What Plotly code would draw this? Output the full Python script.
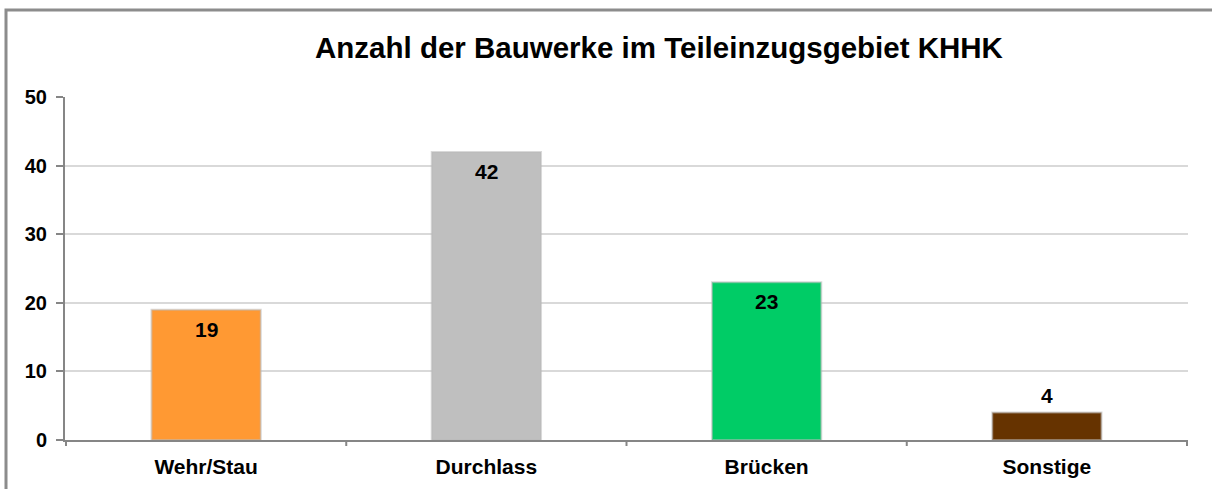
import plotly.graph_objects as go

categories = ["Wehr/Stau", "Durchlass", "Brücken", "Sonstige"]
counts = [19, 42, 23, 4]
bar_colors = ["#FF9933", "#BFBFBF", "#00CC66", "#663300"]
label_inside = [True, True, True, False]
y_ticks = [0, 10, 20, 30, 40, 50]

FONT = "Liberation Sans, Arial, sans-serif"

fig = go.Figure()
fig.add_trace(go.Bar(
    x=categories,
    y=counts,
    marker=dict(color=bar_colors, line=dict(color="rgba(185,185,185,0.55)", width=2)),
    width=0.39,
    hoverinfo="x+y",
))

# value labels: inside near the top of tall bars, just above short ones
for cat, val, inside in zip(categories, counts, label_inside):
    fig.add_annotation(
        x=cat, y=val, xref="x", yref="y",
        text=f"<b>{val}</b>", showarrow=False,
        font=dict(family=FONT, size=21, color="black"),
        yanchor="top" if inside else "bottom",
        yshift=-6 if inside else 4,
    )

fig.update_layout(
    width=1212, height=489,
    margin=dict(l=65, r=24, t=97, b=49, autoexpand=False),
    paper_bgcolor="white", plot_bgcolor="white",
    showlegend=False,
    title=dict(
        text="<b>Anzahl der Bauwerke im Teileinzugsgebiet KHHK</b>",
        font=dict(family=FONT, size=29.5, color="black"),
        x=0.5437, xanchor="center", xref="container",
        y=1 - 48 / 489, yref="container", yanchor="middle",
    ),
    font=dict(family=FONT, color="black"),
)

fig.update_xaxes(
    automargin=False,
    showline=True, linecolor="#868686", linewidth=2,
    ticks="", showgrid=False,
    tickfont=dict(family=FONT, size=21, color="black", weight="bold"),
    ticklabelstandoff=7,
)
fig.update_yaxes(
    automargin=False,
    range=[0, 50], tickvals=y_ticks,
    showline=True, linecolor="#868686", linewidth=2,
    ticks="outside", ticklen=7, tickcolor="#868686", tickwidth=2,
    showgrid=True, gridcolor="#D9D9D9", gridwidth=2,
    zeroline=False,
    tickfont=dict(family=FONT, size=20, color="black", weight="bold"),
    ticklabelstandoff=5,
)

# category separators hanging below the x axis
n = len(categories)
for i in range(n + 1):
    fig.add_shape(type="line", xref="x", yref="paper",
                  x0=i - 0.5, x1=i - 0.5, y0=0, y1=-6 / 343,
                  line=dict(color="#868686", width=2))

# outer frame of the chart area
fig.add_shape(type="rect", xref="paper", yref="paper",
              x0=-59 / 1123, x1=1.1, y0=-0.3, y1=(440 - 10) / 343,
              line=dict(color="#8C8C8C", width=3), fillcolor="rgba(0,0,0,0)",
              layer="below")

fig.write_html("out.html")
